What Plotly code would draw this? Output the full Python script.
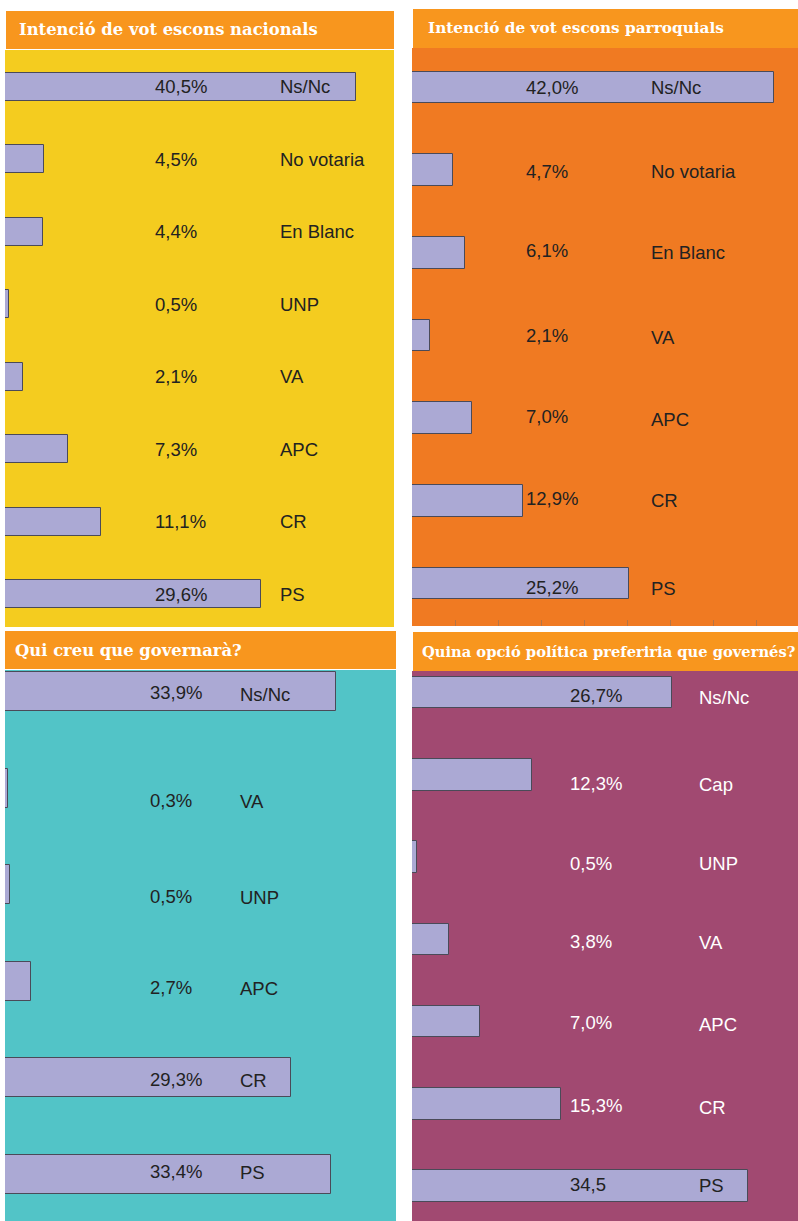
import plotly.graph_objects as go

W, H = 798, 1221

# ---------------- data ----------------
p1_title = "Intenció de vot escons nacionals"
p1_cats = ["Ns/Nc", "No votaria", "En Blanc", "UNP", "VA", "APC", "CR", "PS"]
p1_vals = [40.5, 4.5, 4.4, 0.5, 2.1, 7.3, 11.1, 29.6]
p1_labels = ["40,5%", "4,5%", "4,4%", "0,5%", "2,1%", "7,3%", "11,1%", "29,6%"]

p2_title = "Intenció de vot escons parroquials"
p2_cats = ["Ns/Nc", "No votaria", "En Blanc", "VA", "APC", "CR", "PS"]
p2_vals = [42.0, 4.7, 6.1, 2.1, 7.0, 12.9, 25.2]
p2_labels = ["42,0%", "4,7%", "6,1%", "2,1%", "7,0%", "12,9%", "25,2%"]

p3_title = "Qui creu que governarà?"
p3_cats = ["Ns/Nc", "VA", "UNP", "APC", "CR", "PS"]
p3_vals = [33.9, 0.3, 0.5, 2.7, 29.3, 33.4]
p3_labels = ["33,9%", "0,3%", "0,5%", "2,7%", "29,3%", "33,4%"]

p4_title = "Quina opció política preferiria que governés?"
p4_cats = ["Ns/Nc", "Cap", "UNP", "VA", "APC", "CR", "PS"]
p4_vals = [26.7, 12.3, 0.5, 3.8, 7.0, 15.3, 34.5]
p4_labels = ["26,7%", "12,3%", "0,5%", "3,8%", "7,0%", "15,3%", "34,5"]

# ---------------- styling / layout (pixels) ----------------
HEADER = "#F8961E"
BAR_FILL = "#ABA9D4"
BAR_LINE = "#4A4A58"
DARK = "#222222"

panels = [
    dict(title=p1_title, cats=p1_cats, vals=p1_vals, labels=p1_labels, tsize=16.4,
         bg="#F4CC1F", hx0=6, hx1=394, hy0=11, hy1=49, tx=17,
         px0=5, px1=394, py0=50, py1=627, c0=86.8, clast=594, bh=28, scale=8.66,
         pct_x=153, cat_x=278,
         pct_dy=[0] * 8, cat_dy=[0] * 8, white_off=None),
    dict(title=p2_title, cats=p2_cats, vals=p2_vals, labels=p2_labels, tsize=15.3,
         bg="#F07A22", hx0=413, hx1=798, hy0=9, hy1=48, tx=426,
         px0=412, px1=798, py0=48, py1=626, c0=87.5, clast=583.5, bh=31.5, scale=8.62,
         pct_x=524, cat_x=649,
         pct_dy=[0, 1, -2, 0, -2, -2, 4], cat_dy=[0, 1, 0, 2, 1, 0, 5], white_off=None),
    dict(title=p3_title, cats=p3_cats, vals=p3_vals, labels=p3_labels, tsize=16.4,
         bg="#52C4C7", hx0=5, hx1=396, hy0=631, hy1=669, tx=13,
         px0=5, px1=396, py0=670, py1=1221, c0=691.5, clast=1174, bh=39, scale=9.77,
         pct_x=148, cat_x=238,
         pct_dy=[1, 12, 12, 6, 2, -3], cat_dy=[3, 13, 13, 7, 3, -2], white_off=None),
    dict(title=p4_title, cats=p4_cats, vals=p4_vals, labels=p4_labels, tsize=14.7,
         bg="#A14971", hx0=413, hx1=798, hy0=632, hy1=671, tx=420,
         px0=412, px1=798, py0=671, py1=1221, c0=692.5, clast=1186, bh=31.5, scale=9.75,
         pct_x=568, cat_x=697,
         pct_dy=[2.5, 9, 6, 2, 1, 2, -2], cat_dy=[4.5, 10, 6, 3, 3, 4, -1], white_off=True),
]

fig = go.Figure()
shapes = []
annotations = []


def fx(px):
    return px / W


def fy(py):
    return 1 - py / H


for k, p in enumerate(panels, start=1):
    n = len(p["cats"])
    s = (p["clast"] - p["c0"]) / (n - 1)
    # backgrounds
    shapes.append(dict(type="rect", xref="paper", yref="paper", layer="below",
                       x0=fx(p["px0"]), x1=fx(p["px1"]), y0=fy(p["py1"]), y1=fy(p["py0"]),
                       fillcolor=p["bg"], line=dict(width=0)))
    shapes.append(dict(type="rect", xref="paper", yref="paper", layer="below",
                       x0=fx(p["hx0"]), x1=fx(p["hx1"]), y0=fy(p["hy1"]), y1=fy(p["hy0"]),
                       fillcolor=HEADER, line=dict(width=0)))
    annotations.append(dict(text=p["title"], xref="paper", yref="paper",
                            x=fx(p["tx"]), y=fy((p["hy0"] + p["hy1"]) / 2),
                            xanchor="left", yanchor="middle", showarrow=False,
                            font=dict(family="DejaVu Serif", size=p["tsize"],
                                      color="white", weight=700)))

    xa = "x" if k == 1 else f"x{k}"
    ya = "y" if k == 1 else f"y{k}"
    fig.add_trace(go.Bar(orientation="h", x=p["vals"], y=p["cats"], xaxis=xa, yaxis=ya,
                         width=p["bh"] / s,
                         marker=dict(color=BAR_FILL, line=dict(color=BAR_LINE, width=1)),
                         hoverinfo="skip", showlegend=False))

    xr = [0, (p["px1"] - p["px0"]) / p["scale"]]
    yr = [(p["py1"] - p["c0"]) / s, (p["py0"] - p["c0"]) / s]
    xkey = "xaxis" if k == 1 else f"xaxis{k}"
    ykey = "yaxis" if k == 1 else f"yaxis{k}"
    xaxis = dict(domain=[fx(p["px0"]), fx(p["px1"])], range=xr, anchor=ya,
                 showgrid=False, zeroline=False, showticklabels=False, showline=False,
                 fixedrange=True)
    if k == 2:
        xaxis.update(ticks="inside", ticklen=6, tickwidth=1,
                     tickcolor="rgba(110,110,110,0.45)", tick0=0, dtick=5)
    else:
        xaxis.update(ticks="")
    fig.update_layout({xkey: xaxis,
                       ykey: dict(domain=[fy(p["py1"]), fy(p["py0"])], range=yr, anchor=xa,
                                  type="category", categoryorder="array",
                                  categoryarray=p["cats"], visible=False, fixedrange=True)})

    pct_lim = (p["pct_x"] - p["px0"]) / p["scale"]
    cat_lim = (p["cat_x"] - p["px0"]) / p["scale"]
    for i, (c, v, lab) in enumerate(zip(p["cats"], p["vals"], p["labels"])):
        if p["white_off"]:
            c_pct = DARK if v > pct_lim else "white"
            c_cat = DARK if v > cat_lim else "white"
        else:
            c_pct = c_cat = DARK
        annotations.append(dict(text=lab, xref="paper", yref=ya, x=fx(p["pct_x"]), y=c,
                                xanchor="left", yanchor="middle", showarrow=False,
                                yshift=-p["pct_dy"][i],
                                font=dict(family="Liberation Sans, Arial, sans-serif",
                                          size=18.5, color=c_pct)))
        annotations.append(dict(text=c, xref="paper", yref=ya, x=fx(p["cat_x"]), y=c,
                                xanchor="left", yanchor="middle", showarrow=False,
                                yshift=-p["cat_dy"][i],
                                font=dict(family="Liberation Sans, Arial, sans-serif",
                                          size=18.5, color=c_cat)))

fig.update_layout(width=W, height=H, margin=dict(l=0, r=0, t=0, b=0, pad=0),
                  paper_bgcolor="white", plot_bgcolor="rgba(0,0,0,0)",
                  shapes=shapes, annotations=annotations, bargap=0, showlegend=False)

fig.write_html("out.html", config={"displayModeBar": False})
